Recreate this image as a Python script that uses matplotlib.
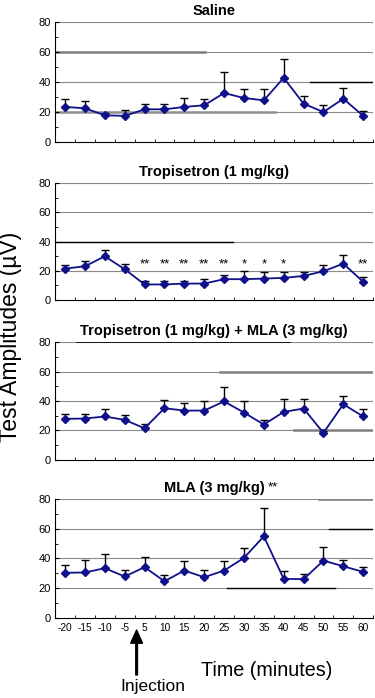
import numpy as np
import matplotlib.pyplot as plt

plt.rcParams['font.family'] = ['Liberation Sans', 'DejaVu Sans']

# time points (minutes), shown as equally spaced categories
times = ['-20', '-15', '-10', '-5', '5', '10', '15', '20', '25', '30',
         '35', '40', '45', '50', '55', '60']

titles = ['Saline', 'Tropisetron (1 mg/kg)',
          'Tropisetron (1 mg/kg) + MLA (3 mg/kg)', 'MLA (3 mg/kg)']

saline_mean = [23.3, 22.4, 17.7, 17.3, 21.7, 21.7, 23.3, 24.4, 32.6, 29.3,
               27.7, 42.8, 25.5, 19.9, 28.8, 17.3]
saline_err = [5.5, 4.6, 1.8, 4.0, 3.8, 3.8, 6.0, 4.4, 14.2, 5.9,
              7.5, 12.8, 4.9, 4.5, 7.1, 3.1]

trop_mean = [21.5, 23.1, 29.9, 21.1, 10.7, 10.7, 11.3, 11.3, 14.3, 14.3,
             14.7, 15.2, 16.5, 19.7, 24.9, 12.5]
trop_err = [2.5, 3.7, 4.1, 3.6, 2.4, 2.4, 1.8, 2.8, 2.9, 5.7,
            4.6, 4.1, 2.7, 4.3, 5.9, 3.4]
trop_stars = ['', '', '', '', '**', '**', '**', '**', '**', '*',
              '*', '*', '', '', '', '**']

trop_mla_mean = [27.9, 28.1, 29.5, 27.2, 21.5, 35.1, 33.5, 33.5, 39.7, 32.2,
                 24.0, 32.6, 34.9, 18.4, 37.8, 29.5]
trop_mla_err = [3.4, 3.2, 5.2, 3.2, 3.0, 5.7, 5.3, 6.6, 9.5, 7.5,
                3.2, 8.9, 6.6, 1.0, 5.7, 5.2]

mla_mean = [30.3, 30.5, 33.4, 27.8, 34.1, 24.6, 31.8, 27.3, 31.8, 40.3,
            54.9, 26.2, 26.0, 38.5, 34.7, 30.9]
mla_err = [5.1, 8.5, 9.4, 4.7, 6.9, 3.9, 6.3, 4.7, 6.3, 7.0,
           19.3, 5.2, 3.4, 9.0, 4.3, 3.6]

means = [saline_mean, trop_mean, trop_mla_mean, mla_mean]
errs = [saline_err, trop_err, trop_mla_err, mla_err]

# faint scanning marks on some gridlines: (panel, y, xmin, xmax, colour, width)
scan_marks = [
    (0, 60, 0.0, 0.47, '#808080', 1.8),
    (0, 40, 0.80, 1.0, 'black', 1.0),
    (0, 20, 0.0, 0.69, '#909090', 1.8),
    (1, 40, 0.0, 0.56, 'black', 1.0),
    (2, 80, 0.07, 0.74, 'black', 1.2),
    (2, 60, 0.52, 1.0, '#808080', 1.8),
    (2, 20, 0.75, 1.0, '#808080', 1.8),
    (3, 80, 0.83, 1.0, '#808080', 1.8),
    (3, 60, 0.86, 1.0, 'black', 1.0),
    (3, 20, 0.54, 0.88, 'black', 1.0),
]

fig = plt.figure(figsize=(3.75, 6.98), dpi=100)
boxes = [(0.797, 0.968), (0.570, 0.738), (0.341, 0.510), (0.115, 0.285)]
x = np.arange(len(times))
axes = []

for i, (bottom, top) in enumerate(boxes):
    ax = fig.add_axes([0.147, bottom, 0.848, top - bottom])
    axes.append(ax)
    for y in [20, 40, 60, 80]:
        ax.axhline(y, color='#8a8a8a', lw=0.8, zorder=0)
    m = np.array(means[i])
    e = np.array(errs[i])
    ax.errorbar(x, m, yerr=[np.zeros_like(e), e], fmt='none', ecolor='black',
                elinewidth=1.0, capsize=2.9, capthick=1.0, zorder=2)
    ax.plot(x, m, color='#10108a', lw=1.3, marker='D', markersize=3.6,
            markerfacecolor='#10108a', markeredgecolor='#10108a', zorder=3)
    ax.set_xlim(-0.5, len(times) - 0.5)
    ax.set_ylim(0, 80)
    ax.set_yticks([0, 20, 40, 60, 80])
    ax.set_yticks([10, 30, 50, 70], minor=True)
    ax.set_xticks(x)
    ax.set_xticks(np.arange(len(times) + 1) - 0.5, minor=True)
    ax.tick_params(axis='y', which='major', direction='in', length=3,
                   labelsize=8, pad=3)
    ax.tick_params(axis='y', which='minor', direction='in', length=2.5)
    ax.tick_params(axis='x', which='major', length=0, labelsize=7.3, pad=4)
    ax.tick_params(axis='x', which='minor', direction='in', length=2.5)
    if i < 3:
        ax.set_xticklabels([])
    else:
        ax.set_xticklabels(times)
    for s in ['top', 'right']:
        ax.spines[s].set_visible(False)
    ax.set_title(titles[i], fontsize=10.5, fontweight='bold', pad=5)

for p, y, x0, x1, c, w in scan_marks:
    axes[p].axhline(y, xmin=x0, xmax=x1, color=c, lw=w, zorder=1)

# significance stars, tropisetron panel
for xi, s in zip(x, trop_stars):
    if s:
        axes[1].text(xi, 24.5, s, ha='center', va='center', fontsize=9.5)

# star beside the MLA title (35 min)
axes[3].text(10.45, 88, '**', ha='center', va='center', fontsize=9.5,
             clip_on=False)

fig.text(0.027, 0.518, 'Test Amplitudes (\u00b5V)', rotation=90,
         ha='center', va='center', fontsize=16.5)
fig.text(0.71, 0.040, 'Time (minutes)', ha='center', va='center',
         fontsize=14.2)

# injection arrow between -5 and 5
axes[3].annotate('', xy=(3.6, 1 - 630 / 698), xycoords=('data', 'figure fraction'),
                 xytext=(3.6, 1 - 675 / 698), textcoords=('data', 'figure fraction'),
                 arrowprops=dict(facecolor='black', edgecolor='black', width=1.2,
                                 headwidth=8.5, headlength=9.5, shrink=0))
fig.text(0.408, 1 - 686 / 698, 'Injection', ha='center', va='center',
         fontsize=12.5)

fig.savefig('out.png', dpi=100)
